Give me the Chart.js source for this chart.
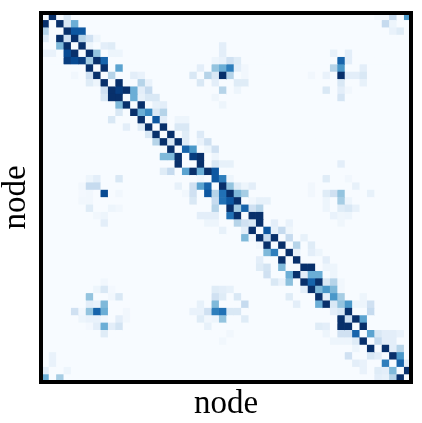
<!DOCTYPE html>
<html><head><meta charset="utf-8">
<style>html,body{margin:0;padding:0;background:#fff}#w{width:422px;height:423px;position:relative}</style>
<script src="https://cdn.jsdelivr.net/npm/chart.js@4"></script>
</head><body><div id="w"><canvas id="c" width="422" height="423"></canvas></div>
<script>
const nodes = Array.from({length:50},(_,i)=>String(i));
const axisLabel = "node";
const blues = ["#f7fbff","#deebf7","#c6dbef","#9ecae1","#6baed6","#4292c6","#2171b5","#08519c","#08306b"];
// each row: [column, value, column, value, ...]; absent cells are 0
const rows = [
/*0*/[1,1,3,.15,45,.03,46,.03,47,.25,49,.6],
/*1*/[0,1,2,1,3,.15,4,.5,46,.25,47,.05],
/*2*/[0,.3,3,1,4,.85,5,.85,47,.07,48,.12],
/*3*/[0,.12,2,1,3,.2,4,1,5,.3,6,.2,7,.05],
/*4*/[2,.45,3,1,5,1,6,.05,8,.1,9,.12,24,.1],
/*5*/[0,.07,1,.07,3,.9,4,1,6,1,7,.4,9,.05,10,.05,24,.1,39,.08,41,.1],
/*6*/[3,.95,4,.9,5,.95,6,.35,7,1,8,.8,23,.05,24,.07,25,.2,26,.12,40,.8,41,.1],
/*7*/[6,1,8,1,10,.55,21,.1,23,.4,24,.5,25,.7,26,.1,27,.03,39,.3,40,.6,43,.1],
/*8*/[4,.03,6,.2,7,1,9,.3,12,.1,13,.07,20,.15,22,.3,23,.15,24,1,25,.3,27,.03,36,.03,38,.07,40,1,41,.1,42,.1,43,.15],
/*9*/[6,.12,7,.05,8,1,10,1,13,.3,14,.07,21,.15,23,.1,26,.12,27,.12,40,.15,43,.08],
/*10*/[8,.2,9,1,10,.95,11,1,12,.5,13,.1,14,.25,24,.3,26,.05,38,.15,40,.1,41,.03],
/*11*/[8,.15,9,1,10,1,12,.5,13,.08,14,.15,15,.15,23,.04,40,.17],
/*12*/[10,.45,11,1,13,1,15,.08,16,.1,24,.05],
/*13*/[10,.15,12,1,13,.5,14,.65,15,.15,16,.3],
/*14*/[9,.15,13,1,15,.85,16,.1,18,.05,19,.05],
/*15*/[11,.1,13,.12,14,1,16,1,18,.15,19,.15],
/*16*/[14,.15,15,1,17,1,19,.12,21,.13],
/*17*/[15,.3,16,1,17,.15,18,1,19,.12,21,.07,22,.2],
/*18*/[17,1,19,.8,20,.6,22,.05,23,.2],
/*19*/[16,.45,17,.45,18,1,20,.95,21,1,23,.05],
/*20*/[18,1,21,1,23,.15,24,.08,25,.08,40,.1],
/*21*/[16,.12,17,.25,19,.55,20,1,21,.5,22,1,23,.85],
/*22*/[6,.05,7,.1,10,.15,21,.03,23,.85,24,.7,25,.05,38,.12,41,.03],
/*23*/[5,.03,6,.25,7,.25,18,.08,20,.2,21,.55,22,.8,24,1,25,.4,26,.12,27,.05,28,.1,36,.03,42,.08],
/*24*/[5,.02,6,.03,8,.9,10,.03,19,.03,20,.2,22,.85,23,.3,24,.75,25,1,26,.45,27,.35,36,.03,38,.12,39,.2,40,.4,44,.08],
/*25*/[5,.03,6,.03,20,.15,23,.25,24,.75,25,.85,26,1,28,.03,29,.08,30,.08,38,.05,40,.35,41,.05],
/*26*/[6,.12,9,.05,10,.03,23,.3,25,1,26,.35,27,.8,28,.2,29,.3,38,.05,40,.12,41,.15,42,.08],
/*27*/[7,.03,8,.05,21,.1,22,.1,23,.1,25,.75,26,1,28,1,29,1,39,.07,40,.04,41,.05],
/*28*/[8,.1,22,.05,23,.05,26,.3,27,.2,28,.15,29,1,31,.1,33,.07,40,.04],
/*29*/[24,.08,27,.1,28,1,30,.85,31,.08,32,.25,33,.04],
/*30*/[27,.45,28,.03,29,1,30,.25,31,1,33,.25,35,.08],
/*31*/[29,.03,30,1,32,1,34,.3,36,.12],
/*32*/[30,.45,31,.7,33,1,34,.07,36,.1,37,.05],
/*33*/[29,.1,32,1,34,1,38,.1],
/*34*/[29,.12,30,.18,32,.45,35,1,36,1,38,.05,39,.05],
/*35*/[30,.2,33,.5,34,1,35,.1,36,.5,37,.5,39,.05],
/*36*/[8,.03,31,.15,32,.07,33,.42,35,1,36,.8,37,1,38,.15,39,.3,40,.03],
/*37*/[7,.05,8,.15,9,.02,23,.12,24,.1,25,.08,35,.1,36,1,37,.45,38,.6,39,.45,40,.03],
/*38*/[6,.4,9,.03,10,.15,23,.2,24,.12,26,.15,33,.12,37,1,38,.1,39,.6,40,.35,43,.05],
/*39*/[6,.1,7,.07,8,.45,21,.08,23,.45,27,.25,34,.1,37,.5,38,1,39,.15,40,.4,41,.6,42,.05,43,.05,44,.2],
/*40*/[4,.2,5,.03,6,.4,7,.8,8,.5,11,.03,20,.07,21,.07,22,.2,23,.7,24,.75,25,.15,26,.15,39,.1,40,.15,41,1,44,.25],
/*41*/[5,.05,6,.07,7,.07,8,.03,10,.1,11,.03,21,.12,22,.03,23,.05,24,.4,27,.12,40,1,41,.2,42,1,43,.55],
/*42*/[6,.02,7,.1,8,.5,9,.1,10,.18,22,.08,37,.12,38,.1,40,1,41,1,43,1],
/*43*/[8,.12,25,.03,38,.05,40,.2,41,.2,42,.8,44,.55,45,.15,46,.1,47,.1,48,.07],
/*44*/[24,.03,39,.05,40,.05,41,.05,42,.12,43,1,45,.25,46,.1,47,.1],
/*45*/[42,.05,44,1,46,1,47,.1,48,.3],
/*46*/[1,.07,41,.2,44,.15,45,.1,47,1,48,.6],
/*47*/[1,.07,42,.1,43,.07,46,.7,48,.8,49,.1],
/*48*/[0,.1,3,.05,43,.07,45,.12,46,.1,47,.45,49,1],
/*49*/[0,.5,2,.35,45,.1,46,.08,47,.3,48,1]
];

function blueColor(v){
  const p=Math.min(.9999,v)*(blues.length-1), i=Math.floor(p), f=p-i;
  const h=s=>[1,3,5].map(k=>parseInt(s.substr(k,2),16));
  const a=h(blues[i]), b=h(blues[i+1]);
  return `rgb(${a.map((x,k)=>Math.round(x+(b[k]-x)*f)).join(",")})`;
}
function cellValue(r,c){
  const row=rows[r];
  for(let i=0;i<row.length;i+=2) if(row[i]===c) return row[i+1];
  return 0;
}
const datasets = nodes.map((_,c)=>({
  data: nodes.map(()=>[c,c+1]),
  backgroundColor: nodes.map((_,r)=>blueColor(cellValue(r,c))),
  borderWidth: 0,
  barPercentage: 1,
  categoryPercentage: 1,
  grouped: false
}));
const frame = {
  id:"frame",
  beforeDatasetsDraw(ch){
    const {ctx,chartArea:a}=ch;
    ctx.save();ctx.fillStyle=blues[0];ctx.fillRect(a.left,a.top,a.width,a.height);ctx.restore();
  },
  afterDatasetsDraw(ch){
    // soften the cells as a resampled image would be
    const {ctx,chartArea:a,canvas}=ch;
    ctx.save();
    ctx.beginPath();ctx.rect(a.left,a.top,a.width,a.height);ctx.clip();
    ctx.filter="blur(0.7px)";
    ctx.drawImage(canvas,0,0,canvas.width,canvas.height);
    ctx.restore();
  },
  afterDraw(ch){
    const {ctx,chartArea:a}=ch;
    ctx.save();ctx.strokeStyle="#000";ctx.lineWidth=4;
    ctx.strokeRect(a.left,a.top,a.width,a.height);ctx.restore();
  }
};
const titleFont={family:"'Liberation Serif',serif",size:33};
new Chart(document.getElementById("c"),{
  type:"bar",
  data:{labels:nodes,datasets},
  plugins:[frame],
  options:{
    indexAxis:"y",responsive:false,animation:false,
    events:[],
    layout:{padding:{top:13,right:11,left:0,bottom:0}},
    plugins:{legend:{display:false},tooltip:{enabled:false}},
    scales:{
      x:{type:"linear",min:0,max:50,
        grid:{display:false},border:{display:false},ticks:{display:false},
        afterFit(s){s.height=41},
        title:{display:true,text:axisLabel,color:"#000",font:titleFont,padding:{top:0,bottom:-1}}},
      y:{type:"category",
        grid:{display:false},border:{display:false},ticks:{display:false},
        afterFit(s){s.width=41},
        title:{display:true,text:axisLabel,color:"#000",font:titleFont,padding:{top:-3,bottom:0}}}
    }
  }
});
</script></body></html>
